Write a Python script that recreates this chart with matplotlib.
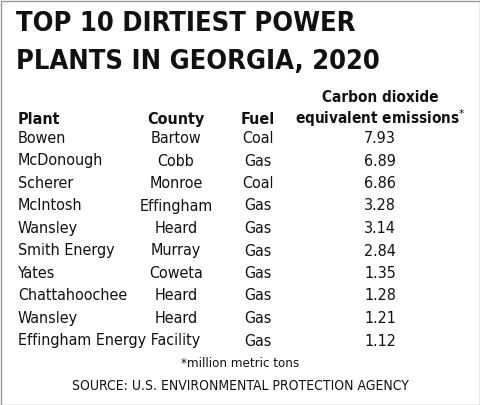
import matplotlib.pyplot as plt
from matplotlib.patches import Rectangle

plants = ['Bowen', 'McDonough', 'Scherer', 'McIntosh', 'Wansley', 'Smith Energy',
          'Yates', 'Chattahoochee', 'Wansley', 'Effingham Energy Facility']
counties = ['Bartow', 'Cobb', 'Monroe', 'Effingham', 'Heard', 'Murray',
            'Coweta', 'Heard', 'Heard', '']
fuels = ['Coal', 'Gas', 'Coal', 'Gas', 'Gas', 'Gas', 'Gas', 'Gas', 'Gas', 'Gas']
emissions = [7.93, 6.89, 6.86, 3.28, 3.14, 2.84, 1.35, 1.28, 1.21, 1.12]

W, H = 480, 405
fam = ['DejaVu Sans Condensed', 'Liberation Sans Narrow', 'DejaVu Sans']
fig = plt.figure(figsize=(W / 100, H / 100), dpi=100)
ax = fig.add_axes([0, 0, 1, 1])
ax.set_xlim(0, W)
ax.set_ylim(H, 0)
ax.axis('off')
ax.add_patch(Rectangle((0.5, 0.5), W - 1, H - 1, fill=False, ec='#999999', lw=1))

def txt(x, y, s, size=11.5, ha='left', weight='normal'):
    ax.text(x, y, s, fontsize=size, ha=ha, va='baseline', weight=weight,
            family=fam, stretch='condensed', color='#111111')

txt(16, 31, 'TOP 10 DIRTIEST POWER', size=19.5, weight='bold')
txt(16, 69, 'PLANTS IN GEORGIA, 2020', size=19.5, weight='bold')

txt(18, 124, 'Plant', size=11.5, weight='bold')
txt(176, 124, 'County', size=11.5, ha='center', weight='bold')
txt(258, 124, 'Fuel', size=11.5, ha='center', weight='bold')
txt(380, 102, 'Carbon dioxide', size=11, ha='center', weight='bold')
txt(380, 124, 'equivalent emissions$^{*}$', size=11, ha='center', weight='bold')

y0, dy = 143, 22.5
for i in range(len(plants)):
    y = y0 + i * dy
    txt(18, y, plants[i])
    if counties[i]:
        txt(176, y, counties[i], ha='center')
    txt(258, y, fuels[i], ha='center')
    txt(380, y, f'{emissions[i]:.2f}', ha='center')

txt(240, 367, '*million metric tons', size=9.5, ha='center')
txt(240, 390, 'SOURCE: U.S. ENVIRONMENTAL PROTECTION AGENCY', size=10, ha='center')

fig.savefig('out.png', dpi=100)
